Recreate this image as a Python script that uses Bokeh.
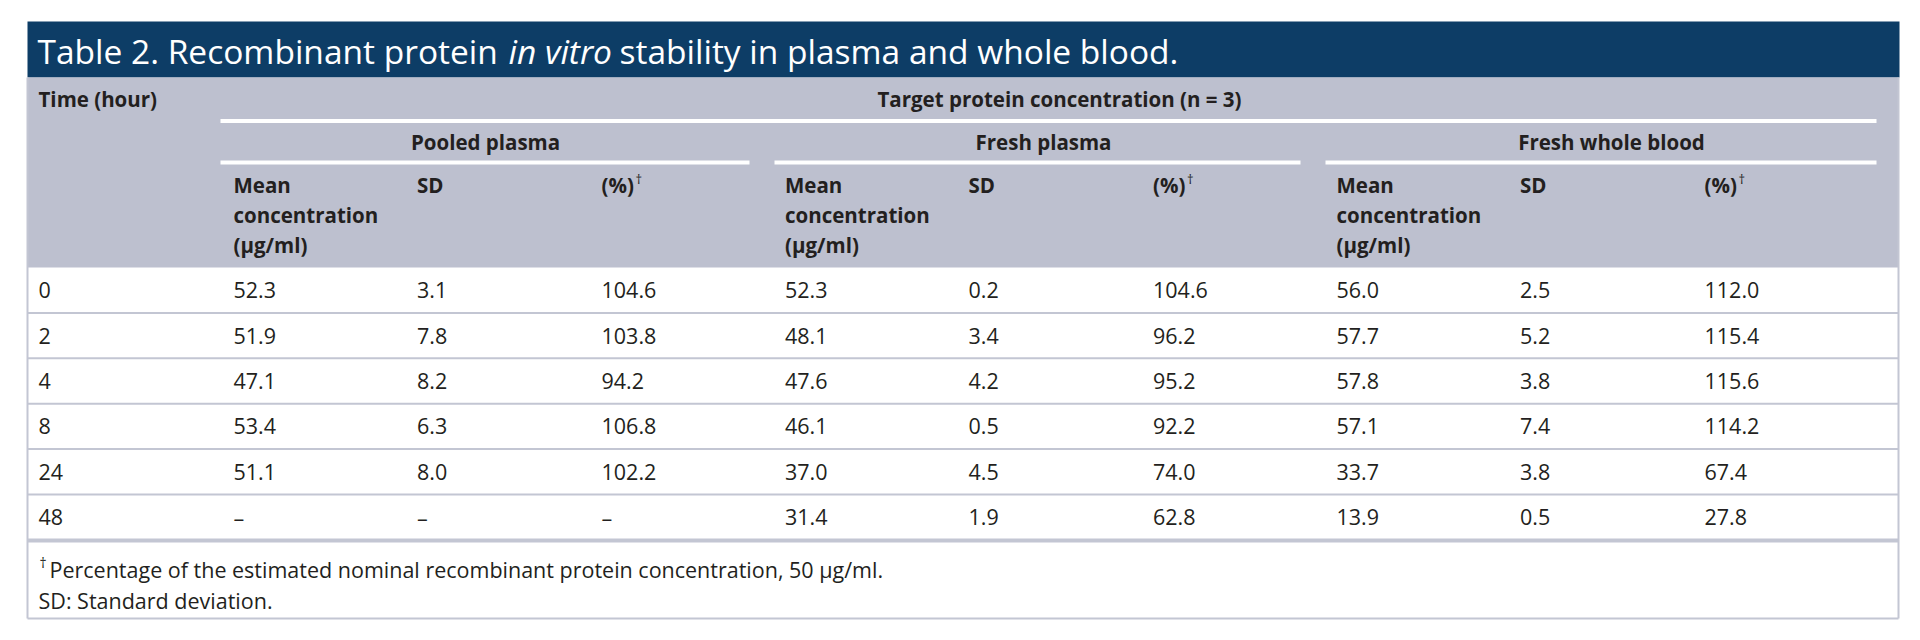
from bokeh.plotting import figure
from bokeh.models import Range1d
from bokeh.core.properties import value
from bokeh.embed import file_html
from bokeh.resources import INLINE

# ---------------- data ----------------
title_parts = ["Table 2. Recombinant protein ", "in vitro", "stability in plasma and whole blood."]
time_label = "Time (hour)"
super_header = "Target protein concentration (n = 3)"
groups = ["Pooled plasma", "Fresh plasma", "Fresh whole blood"]
mean_header = ["Mean", "concentration", "(\u03bcg/ml)"]
sd_header = "SD"
pct_header = "(%)"
dagger = "\u2020"
times = [0, 2, 4, 8, 24, 48]
pooled_mean = [52.3, 51.9, 47.1, 53.4, 51.1, None]
pooled_sd = [3.1, 7.8, 8.2, 6.3, 8.0, None]
pooled_pct = [104.6, 103.8, 94.2, 106.8, 102.2, None]
fresh_mean = [52.3, 48.1, 47.6, 46.1, 37.0, 31.4]
fresh_sd = [0.2, 3.4, 4.2, 0.5, 4.5, 1.9]
fresh_pct = [104.6, 96.2, 95.2, 92.2, 74.0, 62.8]
blood_mean = [56.0, 57.7, 57.8, 57.1, 33.7, 13.9]
blood_sd = [2.5, 5.2, 3.8, 7.4, 3.8, 0.5]
blood_pct = [112.0, 115.4, 115.6, 114.2, 67.4, 27.8]
footnotes = ["Percentage of the estimated nominal recombinant protein concentration, 50 \u03bcg/ml.",
             "SD: Standard deviation."]

group_data = [(pooled_mean, pooled_sd, pooled_pct),
              (fresh_mean, fresh_sd, fresh_pct),
              (blood_mean, blood_sd, blood_pct)]

def fmt(v):
    return "\u2013" if v is None else f"{v:.1f}"

# ---------------- layout ----------------
W, H = 1904, 624
FONT = value("Open Sans")
NAVY = "#0d3d66"
HDR = "#bdc0cf"
LINE = "#c3c6d3"
INK = "#231f20"

L, R = 27, 1898
TITLE_TOP, TITLE_BOT = 21, 77
HDR_BOT = 267
ROW_H = 45.4
TABLE_BOT = 618
TIME_X = 38
GROUP_X = [233, 784.5, 1336]
COL_OFF = [0, 183.5, 368]
GROUP_CX = [485, 1043, 1611]
SEG = [(220, 749), (774, 1300), (1325, 1876)]

p = figure(width=W, height=H, x_range=Range1d(0, W), y_range=Range1d(H, 0),
           output_backend="svg", toolbar_location=None, min_border=0,
           x_axis_type=None, y_axis_type=None)
p.grid.visible = False
p.outline_line_color = None
p.background_fill_color = "white"
p.border_fill_color = "white"

# title bar
p.quad(left=[L], right=[R + 1], top=[TITLE_TOP], bottom=[TITLE_BOT], fill_color=NAVY, line_color=None)
t_kw = dict(text_font=FONT, text_font_size="33.5px", text_color="white", text_baseline="middle",
            text_align="left")
p.text(x=[37], y=[50], text=[title_parts[0]], **t_kw)
p.text(x=[508], y=[50], text=[title_parts[1]], text_font_style="italic", **t_kw)
p.text(x=[619], y=[50], text=[title_parts[2]], **t_kw)

# header background
p.quad(left=[L], right=[R], top=[TITLE_BOT], bottom=[HDR_BOT], fill_color=HDR, line_color=None)
# white rules in header
p.quad(left=[220], right=[1876], top=[118.5], bottom=[122.5], fill_color="white", line_color=None)
p.quad(left=[s[0] for s in SEG], right=[s[1] for s in SEG], top=[160] * 3, bottom=[164] * 3,
       fill_color="white", line_color=None)

hdr_kw = dict(text_font=FONT, text_font_size="20.5px", text_font_style="bold", text_color=INK,
              text_baseline="middle")
p.text(x=[TIME_X], y=[98], text=[time_label], text_align="left", **hdr_kw)
p.text(x=[1059], y=[98], text=[super_header], text_align="center", **hdr_kw)
p.text(x=GROUP_CX, y=[141] * 3, text=groups, text_align="center", **hdr_kw)

sx, sy, st = [], [], []
dx, dy = [], []
for gx in GROUP_X:
    for i, line in enumerate(mean_header):
        sx.append(gx + COL_OFF[0]); sy.append(184 + 30 * i); st.append(line)
    sx.append(gx + COL_OFF[1]); sy.append(184); st.append(sd_header)
    sx.append(gx + COL_OFF[2]); sy.append(184); st.append(pct_header)
    dx.append(gx + COL_OFF[2] + 34); dy.append(178)
p.text(x=sx, y=sy, text=st, text_align="left", **hdr_kw)
p.text(x=dx, y=dy, text=[dagger] * len(dx), text_font=FONT, text_font_size="13px",
       text_color=INK, text_baseline="middle", text_align="left")

# body rows
n = len(times)
row_y = [HDR_BOT + ROW_H * (i + 0.5) for i in range(n)]
body_kw = dict(text_font=FONT, text_font_size="21.5px", text_color=INK, text_baseline="middle",
               text_align="left")
p.text(x=[TIME_X] * n, y=row_y, text=[str(t) for t in times], **body_kw)
bx, by, bt = [], [], []
for gx, cols in zip(GROUP_X, group_data):
    for off, col in zip(COL_OFF, cols):
        for y, v in zip(row_y, col):
            bx.append(gx + off); by.append(y); bt.append(fmt(v))
p.text(x=bx, y=by, text=bt, **body_kw)

# row separators
sep_y = [HDR_BOT + ROW_H * (i + 1) for i in range(n - 1)]
p.segment(x0=[L] * len(sep_y), x1=[R] * len(sep_y), y0=sep_y, y1=sep_y, line_color=LINE, line_width=2)
last = HDR_BOT + ROW_H * n
p.quad(left=[L], right=[R], top=[last - 1.5], bottom=[last + 2.5], fill_color=LINE, line_color=None)

# outer border
p.segment(x0=[L, R, L], x1=[L, R, R], y0=[TITLE_BOT, TITLE_BOT, TABLE_BOT], y1=[TABLE_BOT, TABLE_BOT, TABLE_BOT],
          line_color=LINE, line_width=2)

# footnotes
p.text(x=[39], y=[562], text=[dagger], text_font=FONT, text_font_size="14px",
       text_color=INK, text_baseline="middle", text_align="left")
p.text(x=[49, TIME_X], y=[569, 600], text=footnotes, text_font=FONT, text_font_size="21.5px",
       text_color=INK, text_baseline="middle", text_align="left")

open("out.html", "w").write(file_html(p, INLINE))
